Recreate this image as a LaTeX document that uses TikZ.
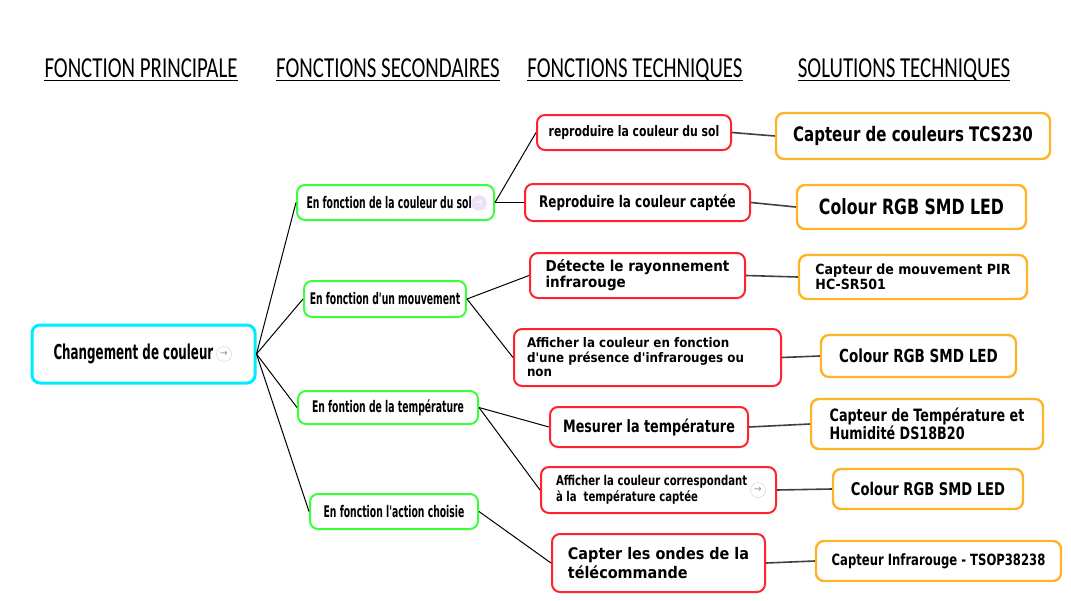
\documentclass[tikz,border=0pt]{standalone}
\usepackage{fontspec}
\usetikzlibrary{positioning}
\newfontfamily\headfont[FakeStretch=0.72]{Carlito}
\newfontfamily\narrowfont[FakeStretch=0.58]{DejaVu Sans}
\newfontfamily\midfont[FakeStretch=0.75]{DejaVu Sans}
\newfontfamily\widefont[FakeStretch=0.9]{DejaVu Sans}
\newcommand{\fsz}[2]{\fontsize{#1}{#2}\selectfont}
\definecolor{rootc}{RGB}{0,235,255}
\definecolor{secc}{RGB}{60,255,60}
\definecolor{techc}{RGB}{255,35,45}
\definecolor{solc}{RGB}{255,180,40}
\definecolor{iconc}{RGB}{205,205,205}
\definecolor{iconp}{RGB}{236,226,246}
\tikzset{
  head/.style = {font=\headfont\fsz{29}{30},anchor=base,inner sep=0pt},
  uline/.style = {line width=1.6pt},
  box/.style = {draw,rounded corners=8pt,fill=white,inner sep=3pt,align=flush left},
  princ/.style = {box,draw=rootc,line width=3pt},
  sec/.style = {box,draw=secc,line width=2pt},
  tech/.style = {box,draw=techc,line width=2pt},
  sol/.style = {box,draw=solc,line width=2.4pt},
  lnk/.style = {black,line width=1pt},
  lnkd/.style = {black!75,line width=1.6pt},
  icon/.style = {circle,draw=iconc,text=iconc!70!black,fill=white,inner sep=0pt,minimum size=15pt,font=\widefont\fsz{10}{10}}
}

\begin{document}
\begin{tikzpicture}[x=1pt,y=-1pt]
\useasboundingbox (0,0) rectangle (1071,600);

% column titles
\node[head] (hprinc) at (141,77) {FONCTION PRINCIPALE};
\node[head] (hsec) at (388,77) {FONCTIONS SECONDAIRES};
\node[head] (htech) at (635,77) {FONCTIONS TECHNIQUES};
\node[head] (hsol) at (904,77) {SOLUTIONS TECHNIQUES};
\foreach \h in {hprinc,hsec,htech,hsol}
  \draw[uline] ([yshift=-3.5pt]\h.base west) -- ([yshift=-3.5pt]\h.base east);

\node[princ,minimum width=223pt,minimum height=58pt,text width=180pt,font=\narrowfont\bfseries\fsz{20.5}{22}] (root) at (143.5,354) {Changement de couleur};
\node[icon] (rooti) at (224,354) {→};

\node[sec,minimum width=197pt,minimum height=35pt,text width=178pt,font=\narrowfont\bfseries\fsz{16}{17}] (s1) at (395.5,202.5) {En fonction de la couleur du sol};
\node[icon,draw=iconp,fill=iconp,text=white] (s1i) at (479,203) {→};
\node[sec,minimum width=162pt,minimum height=36pt,font=\narrowfont\bfseries\fsz{16}{17}] (s2) at (385,299) {En fonction d'un mouvement};
\node[sec,minimum width=180pt,minimum height=33pt,font=\narrowfont\bfseries\fsz{16}{17}] (s3) at (388,407.5) {En fontion de la température};
\node[sec,minimum width=168pt,minimum height=35pt,font=\narrowfont\bfseries\fsz{16}{17}] (s4) at (394,511.5) {En fonction l'action choisie};

\node[tech,minimum width=194pt,minimum height=35pt,font=\midfont\bfseries\fsz{14.5}{16}] (t1) at (634,132.5) {reproduire la couleur du sol};
\node[tech,minimum width=225pt,minimum height=37pt,font=\midfont\bfseries\fsz{16}{18}] (t2) at (637.5,202.5) {Reproduire la couleur captée};
\node[tech,minimum width=215pt,minimum height=45pt,font=\widefont\bfseries\fsz{15}{16}] (t3) at (637.5,275.5) {Détecte le rayonnement\\infrarouge};
\node[tech,minimum width=267pt,minimum height=57pt,text width=241pt,font=\widefont\bfseries\fsz{13.2}{14.5}] (t4) at (647.5,357.5) {Afficher la couleur en fonction\\d'une présence d'infrarouges ou\\non};
\node[tech,minimum width=198pt,minimum height=40pt,font=\midfont\bfseries\fsz{17}{19}] (t5) at (649,427) {Mesurer la température};
\node[tech,minimum width=235pt,minimum height=46pt,text width=205pt,font=\midfont\bfseries\fsz{13.5}{16}] (t6) at (658.5,490) {Afficher la couleur correspondant\\à la\ \ température captée};
\node[icon] (t6i) at (758,490) {→};
\node[tech,minimum width=213pt,minimum height=58pt,font=\widefont\bfseries\fsz{16}{19}] (t7) at (658.5,563) {Capter les ondes de la\\télécommande};

\node[sol,minimum width=274pt,minimum height=46pt,font=\midfont\bfseries\fsz{20}{22}] (o1) at (913,136) {Capteur de couleurs TCS230};
\node[sol,minimum width=229pt,minimum height=44pt,font=\midfont\bfseries\fsz{21}{23}] (o2) at (911.5,207) {Colour RGB SMD LED};
\node[sol,minimum width=228pt,minimum height=44pt,font=\widefont\bfseries\fsz{14}{15}] (o3) at (913,277) {Capteur de mouvement PIR\\HC-SR501};
\node[sol,minimum width=195pt,minimum height=42pt,font=\midfont\bfseries\fsz{18}{20}] (o4) at (918.5,356) {Colour RGB SMD LED};
\node[sol,minimum width=232pt,minimum height=50pt,font=\midfont\bfseries\fsz{17}{18}] (o5) at (927,424) {Capteur de Température et\\Humidité DS18B20};
\node[sol,minimum width=190pt,minimum height=40pt,font=\midfont\bfseries\fsz{17.5}{19}] (o6) at (928,489) {Colour RGB SMD LED};
\node[sol,minimum width=245pt,minimum height=40pt,font=\midfont\bfseries\fsz{15.5}{17}] (o7) at (938.5,561) {Capteur Infrarouge - TSOP38238};

% links
\foreach \s in {s1,s2,s3,s4}
  \draw[lnk] (root.east) -- (\s.west);
\draw[lnk] (s1.east) -- (t1.west);
\draw[lnk] (s1.east) -- (t2.west);
\draw[lnk] (s2.east) -- (t3.west);
\draw[lnk] (s2.east) -- (t4.west);
\draw[lnk] (s3.east) -- (t5.west);
\draw[lnk] (s3.east) -- (t6.west);
\draw[lnk] (s4.east) -- (t7.west);
\foreach \i in {1,...,7}
  \draw[lnkd] (t\i.east) -- (o\i.west);
\end{tikzpicture}
\end{document}
